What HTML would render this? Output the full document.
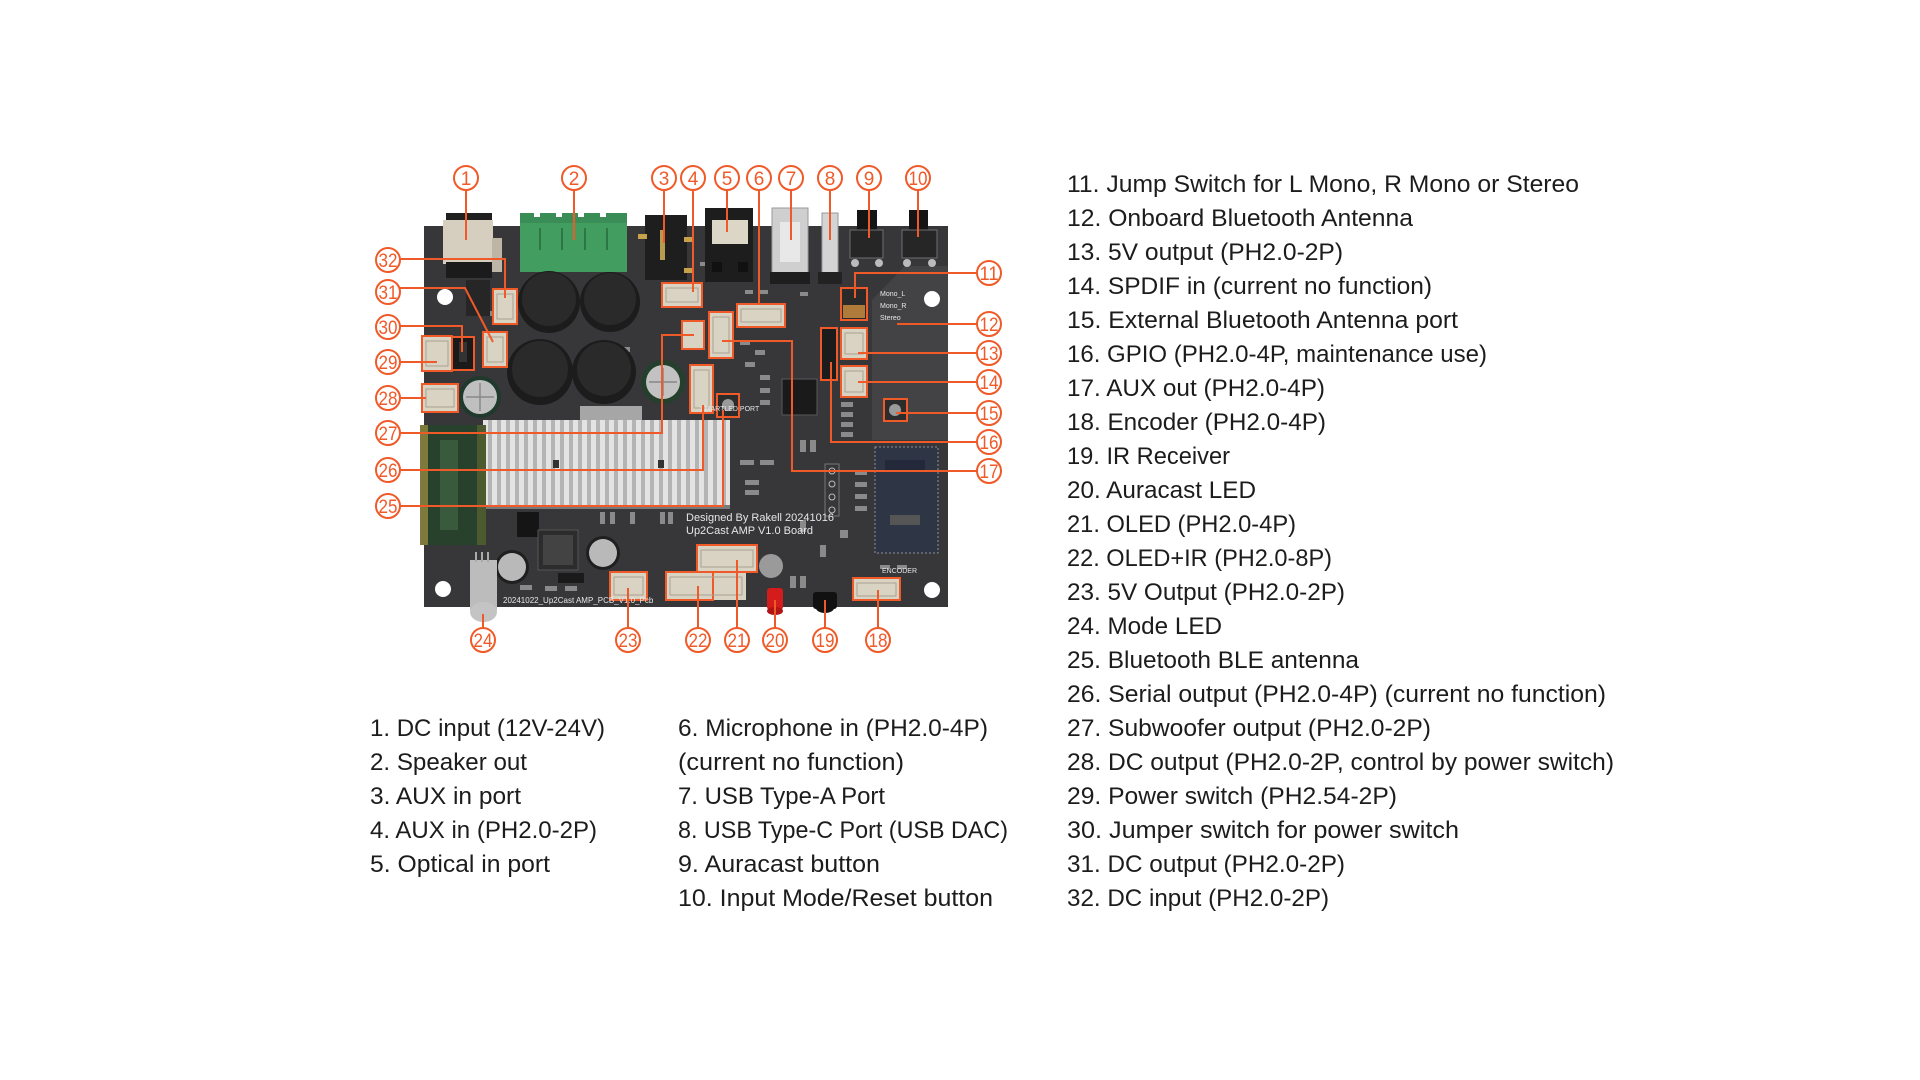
<!DOCTYPE html>
<html><head><meta charset="utf-8"><style>
html,body{margin:0;padding:0;background:#fff;width:1920px;height:1080px;overflow:hidden}
svg{display:block}
.t{font-family:"Liberation Sans",Arial,sans-serif;font-size:24px;fill:#1c1c1c}
.n{font-family:"Liberation Sans",Arial,sans-serif;font-size:19px;fill:#F05A28;text-anchor:middle}
.c{fill:#fff;stroke:#F05A28;stroke-width:2}
.l{fill:none;stroke:#F05A28;stroke-width:2}
.cn{fill:#d9d3c4;stroke:#F05A28;stroke-width:2}
.in{fill:none;stroke:#a9a292;stroke-width:1}
.smd{fill:#8a8a8a}
.wt{font-family:"Liberation Sans",Arial,sans-serif;fill:#e6e6e6}
</style></head><body>
<svg width="1920" height="1080" viewBox="0 0 1920 1080">
<defs>
<pattern id="fins" x="483" y="0" width="9" height="20" patternUnits="userSpaceOnUse">
<rect x="0" y="0" width="9" height="20" fill="#b4b4b4"/>
<rect x="0" y="0" width="5" height="20" fill="#e3e3e3"/>
</pattern>
</defs>
<rect x="0" y="0" width="1920" height="1080" fill="#fff"/>

<!-- PCB -->
<rect x="424" y="226" width="524" height="381" fill="#37373a"/>
<polygon points="905,266 948,266 948,440 872,440 872,300" fill="#434346"/>
<!-- mounting holes -->
<circle cx="445" cy="297" r="8" fill="#fff"/>
<circle cx="932" cy="299" r="8" fill="#fff"/>
<circle cx="443" cy="589" r="8" fill="#fff"/>
<circle cx="932" cy="590" r="8" fill="#fff"/>

<!-- scattered SMD parts -->
<g class="smd">
<rect x="700" y="262" width="8" height="4"/><rect x="712" y="262" width="8" height="4"/><rect x="724" y="262" width="8" height="4"/>
<rect x="745" y="290" width="8" height="4"/><rect x="760" y="290" width="8" height="4"/><rect x="800" y="292" width="8" height="4"/>
<rect x="740" y="340" width="10" height="5"/><rect x="755" y="350" width="10" height="5"/><rect x="745" y="362" width="10" height="5"/>
<rect x="760" y="375" width="10" height="5"/><rect x="760" y="388" width="10" height="5"/><rect x="760" y="400" width="10" height="5"/>
<rect x="841" y="402" width="12" height="5"/><rect x="841" y="412" width="12" height="5"/><rect x="841" y="422" width="12" height="5"/><rect x="841" y="432" width="12" height="5"/>
<rect x="800" y="440" width="6" height="12"/><rect x="810" y="440" width="6" height="12"/>
<rect x="740" y="460" width="14" height="5"/><rect x="760" y="460" width="14" height="5"/>
<rect x="745" y="480" width="14" height="5"/><rect x="745" y="490" width="14" height="5"/>
<rect x="855" y="470" width="12" height="5"/><rect x="855" y="482" width="12" height="5"/><rect x="855" y="494" width="12" height="5"/><rect x="855" y="506" width="12" height="5"/>
<rect x="600" y="512" width="5" height="12"/><rect x="610" y="512" width="5" height="12"/><rect x="630" y="512" width="5" height="12"/>
<rect x="660" y="512" width="5" height="12"/><rect x="668" y="512" width="5" height="12"/>
<rect x="800" y="520" width="6" height="12"/><rect x="840" y="530" width="8" height="8"/><rect x="820" y="545" width="6" height="12"/>
<rect x="520" y="585" width="12" height="5"/><rect x="545" y="586" width="12" height="5"/><rect x="565" y="586" width="12" height="5"/>
<rect x="800" y="576" width="6" height="12"/><rect x="790" y="576" width="6" height="12"/>
<rect x="880" y="565" width="10" height="4"/><rect x="897" y="565" width="10" height="4"/>
<rect x="620" y="347" width="10" height="5"/><rect x="470" y="307" width="10" height="5"/><rect x="482" y="311" width="10" height="5"/>
</g>
<!-- GPIO header 4-hole vertical -->
<rect x="825" y="464" width="14" height="52" fill="none" stroke="#777" stroke-width="1"/>
<circle cx="832" cy="471" r="3" fill="none" stroke="#bbb"/><circle cx="832" cy="484" r="3" fill="none" stroke="#bbb"/>
<circle cx="832" cy="497" r="3" fill="none" stroke="#bbb"/><circle cx="832" cy="510" r="3" fill="none" stroke="#bbb"/>

<!-- DC jack (1) -->
<rect x="446" y="213" width="46" height="12" fill="#202020"/>
<rect x="443" y="220" width="50" height="44" fill="#d6cfbf"/>
<rect x="446" y="262" width="46" height="16" fill="#1b1b1b"/>
<rect x="492" y="238" width="10" height="34" fill="#bdb6a6"/>
<!-- dark part below jack -->
<rect x="466" y="280" width="24" height="36" fill="#262626"/>

<!-- Green terminal (2) -->
<rect x="520" y="213" width="107" height="59" fill="#429d61"/>
<rect x="520" y="213" width="107" height="10" fill="#3a8d56"/>
<rect x="534" y="213" width="6" height="4" fill="#fff"/><rect x="556" y="213" width="6" height="4" fill="#fff"/><rect x="578" y="213" width="6" height="4" fill="#fff"/><rect x="600" y="213" width="6" height="4" fill="#fff"/>
<line x1="540" y1="228" x2="540" y2="250" stroke="#2e7646" stroke-width="2"/>
<line x1="562" y1="228" x2="562" y2="250" stroke="#2e7646" stroke-width="2"/>
<line x1="585" y1="228" x2="585" y2="250" stroke="#2e7646" stroke-width="2"/>
<line x1="607" y1="228" x2="607" y2="250" stroke="#2e7646" stroke-width="2"/>

<!-- AUX jack (3) -->
<rect x="645" y="215" width="42" height="65" fill="#1e1e1e"/>
<rect x="638" y="234" width="9" height="5" fill="#c8a24b"/><rect x="684" y="237" width="9" height="5" fill="#c8a24b"/>
<rect x="684" y="268" width="9" height="5" fill="#c8a24b"/><rect x="660" y="230" width="5" height="30" fill="#b89a50"/>

<!-- Optical (5) -->
<rect x="705" y="208" width="48" height="74" fill="#1d1d1d"/>
<rect x="712" y="220" width="36" height="24" fill="#dcd6c6"/>
<rect x="712" y="262" width="10" height="10" fill="#111"/><rect x="738" y="262" width="10" height="10" fill="#111"/>

<!-- USB-A (7) -->
<rect x="772" y="208" width="36" height="66" fill="#cfcfcf" stroke="#9a9a9a"/>
<rect x="780" y="222" width="20" height="40" fill="#e8e8e8"/>
<rect x="770" y="272" width="40" height="12" fill="#1e1e1e"/>

<!-- USB-C (8) -->
<rect x="822" y="213" width="16" height="66" fill="#d4d4d4" stroke="#999"/>
<rect x="818" y="272" width="24" height="12" fill="#222"/>

<!-- Buttons (9, 10) -->
<rect x="857" y="210" width="20" height="22" fill="#151515"/>
<rect x="850" y="230" width="33" height="28" fill="#262626" stroke="#6d6d6d"/>
<circle cx="855" cy="263" r="4" fill="#bbb"/><circle cx="879" cy="263" r="4" fill="#bbb"/>
<rect x="909" y="210" width="19" height="22" fill="#151515"/>
<rect x="902" y="230" width="35" height="28" fill="#262626" stroke="#6d6d6d"/>
<circle cx="907" cy="263" r="4" fill="#bbb"/><circle cx="932" cy="263" r="4" fill="#bbb"/>

<!-- Inductors -->
<circle cx="610" cy="302" r="30" fill="#1c1c1c"/>
<circle cx="610" cy="299" r="26" fill="#2a2a2a"/>
<circle cx="549" cy="302" r="31" fill="#1c1c1c"/>
<circle cx="549" cy="299" r="27" fill="#2a2a2a"/>
<circle cx="604" cy="372" r="32" fill="#1c1c1c"/>
<circle cx="604" cy="369" r="27" fill="#2a2a2a"/>
<circle cx="540" cy="372" r="33" fill="#1c1c1c"/>
<circle cx="540" cy="369" r="28" fill="#2a2a2a"/>

<!-- electrolytic caps -->
<circle cx="480" cy="397" r="21" fill="#1f3a2c"/>
<circle cx="480" cy="397" r="17" fill="#bfbfbf"/>
<line x1="466" y1="397" x2="494" y2="397" stroke="#888" stroke-width="1.5"/><line x1="480" y1="383" x2="480" y2="411" stroke="#888" stroke-width="1.5"/>
<circle cx="663" cy="382" r="22" fill="#24402c"/>
<circle cx="663" cy="382" r="17" fill="#c2c2c2"/>
<line x1="649" y1="382" x2="677" y2="382" stroke="#888" stroke-width="1.5"/><line x1="663" y1="368" x2="663" y2="396" stroke="#888" stroke-width="1.5"/>

<!-- grey block above heatsink -->
<rect x="580" y="406" width="62" height="16" fill="#a6a6a6"/>
<!-- Heatsink -->
<rect x="483" y="420" width="247" height="89" fill="url(#fins)"/>
<rect x="483" y="505" width="247" height="4" fill="#7a7a7a"/>
<rect x="553" y="460" width="6" height="8" fill="#333"/><rect x="658" y="460" width="6" height="8" fill="#333"/>

<!-- Big green capacitor -->
<rect x="420" y="425" width="66" height="120" rx="5" fill="#27412c"/>
<rect x="420" y="425" width="8" height="120" fill="#7d7a3c"/>
<rect x="477" y="425" width="9" height="120" fill="#4d5a2f"/>
<rect x="440" y="440" width="18" height="90" fill="#3a5a3e"/>

<!-- lower parts -->
<rect x="517" y="512" width="22" height="25" fill="#151515"/>
<rect x="538" y="530" width="40" height="40" fill="#2c2c2c" stroke="#555"/>
<rect x="543" y="535" width="30" height="30" fill="#434343"/>
<circle cx="512" cy="567" r="17" fill="#1f1f1f"/><circle cx="512" cy="567" r="14" fill="#b9b9b9"/>
<circle cx="603" cy="553" r="17" fill="#1f1f1f"/><circle cx="603" cy="553" r="14" fill="#b9b9b9"/>
<rect x="558" y="573" width="26" height="10" fill="#1a1a1a"/>
<rect x="720" y="330" width="0" height="0"/>

<!-- chip U1 -->
<rect x="782" y="379" width="35" height="36" fill="#1a1a1a" stroke="#5a5a5a"/>
<!-- bluetooth module -->
<rect x="875" y="447" width="63" height="106" fill="#2e3544" stroke="#8a8f9a" stroke-dasharray="2,2"/>
<rect x="885" y="460" width="40" height="10" fill="#23293a"/>
<rect x="890" y="515" width="30" height="10" fill="#555"/>

<!-- Mode LED (24) -->
<rect x="470" y="560" width="27" height="50" fill="#bcbcbc"/>
<ellipse cx="483.5" cy="612" rx="13.5" ry="10" fill="#c4c4c4"/>
<line x1="476" y1="552" x2="476" y2="562" stroke="#aaa" stroke-width="2"/><line x1="482" y1="552" x2="482" y2="562" stroke="#aaa" stroke-width="2"/><line x1="488" y1="552" x2="488" y2="562" stroke="#aaa" stroke-width="2"/>

<!-- Auracast LED (20) -->
<circle cx="771" cy="566" r="12" fill="#9a9a9a"/>
<rect x="767" y="588" width="16" height="22" rx="3" fill="#d41c1c"/>
<ellipse cx="775" cy="611" rx="8" ry="4" fill="#b01414"/>
<!-- IR receiver (19) -->
<rect x="813" y="592" width="24" height="17" rx="3" fill="#111"/>
<ellipse cx="825" cy="608" rx="9" ry="5" fill="#111"/>

<!-- Connectors -->
<rect class="cn" x="493" y="289" width="24" height="35"/>
<rect class="cn" x="483" y="332" width="24" height="35"/>
<rect class="cn" x="422" y="336" width="30" height="35"/>
<rect x="452" y="337" width="22" height="33" fill="#1a1a1a" stroke="#F05A28" stroke-width="2"/>
<rect x="459" y="342" width="8" height="20" fill="#333"/>
<rect class="cn" x="422" y="384" width="36" height="28"/>
<rect class="cn" x="662" y="283" width="40" height="24"/>
<rect class="cn" x="682" y="321" width="22" height="28"/>
<rect class="cn" x="709" y="312" width="24" height="46"/>
<rect class="cn" x="737" y="304" width="48" height="23"/>
<rect class="cn" x="690" y="365" width="23" height="48"/>
<rect x="717" y="394" width="22" height="23" fill="#2c2c2c" stroke="#F05A28" stroke-width="2"/>
<circle cx="728" cy="405" r="6" fill="#9a9a9a"/>
<rect x="841" y="288" width="26" height="32" fill="#2a2a2a" stroke="#F05A28" stroke-width="2"/>
<rect x="843" y="305" width="22" height="13" fill="#b07a3a"/>
<rect x="821" y="328" width="16" height="52" fill="#1c1c1c" stroke="#F05A28" stroke-width="2"/>
<rect class="cn" x="841" y="328" width="26" height="31"/>
<rect class="cn" x="841" y="366" width="26" height="31"/>
<rect x="884" y="399" width="23" height="22" fill="#2c2c2c" stroke="#F05A28" stroke-width="2"/>
<circle cx="895" cy="410" r="6" fill="#9a9a9a"/>
<rect class="cn" x="610" y="572" width="37" height="28"/>
<rect x="713" y="573" width="33" height="27" fill="#d9d3c4"/>
<rect class="cn" x="666" y="572" width="47" height="28"/>
<rect class="cn" x="697" y="545" width="60" height="27"/>
<rect class="cn" x="853" y="578" width="47" height="22"/>
<!-- connector inner detail -->
<g class="in">
<rect x="497" y="294" width="16" height="25"/><rect x="487" y="337" width="16" height="25"/>
<rect x="426" y="341" width="22" height="25"/><rect x="426" y="389" width="28" height="18"/>
<rect x="666" y="288" width="32" height="14"/><rect x="741" y="309" width="40" height="13"/>
<rect x="713" y="317" width="16" height="36"/><rect x="694" y="370" width="15" height="38"/>
<rect x="845" y="333" width="18" height="21"/><rect x="845" y="371" width="18" height="21"/>
<rect x="614" y="577" width="29" height="18"/><rect x="670" y="577" width="72" height="18"/>
<rect x="701" y="550" width="52" height="17"/><rect x="857" y="583" width="39" height="13"/>
</g>

<!-- board text -->
<text class="wt" x="686" y="521" font-size="11">Designed By Rakell  20241016</text>
<text class="wt" x="686" y="534" font-size="11">Up2Cast AMP V1.0 Board</text>
<text class="wt" x="503" y="603" font-size="8">20241022_Up2Cast AMP_PCB_V1.0_Pcb</text>
<text class="wt" x="700" y="411" font-size="7">SMARTLED PORT</text>
<text class="wt" x="880" y="296" font-size="7">Mono_L</text>
<text class="wt" x="880" y="308" font-size="7">Mono_R</text>
<text class="wt" x="880" y="320" font-size="7">Stereo</text>
<text class="wt" x="882" y="573" font-size="7">ENCODER</text>

<!-- Leader lines -->
<g class="l">
<path d="M466 190V240"/><path d="M574 190V240"/><path d="M664 190V243"/><path d="M693 190V292"/>
<path d="M727 190V232"/><path d="M759 190V305"/><path d="M791 190V240"/><path d="M830 190V240"/>
<path d="M869 190V238"/><path d="M918 190V237"/>
<path d="M977 273H855V298"/><path d="M977 324H897"/><path d="M977 353H858"/><path d="M977 382H858"/>
<path d="M977 413H896"/><path d="M977 442H831V362"/><path d="M977 471H792V341H722"/>
<path d="M878 628V590"/><path d="M825 628V600"/><path d="M775 628V600"/><path d="M737 628V560"/>
<path d="M698 628V586"/><path d="M628 628V588"/><path d="M483 628V614"/>
<path d="M400 506H723V410"/><path d="M400 470H703V405"/><path d="M400 433H662V335H694"/>
<path d="M400 398H426"/><path d="M400 362H437"/><path d="M400 326H462V352"/>
<path d="M399 288H465L493 342"/><path d="M399 259H505V298"/>
</g>

<!-- Number circles -->
<g>
<circle class="c" cx="466" cy="178" r="12"/><text class="n" x="466" y="185">1</text>
<circle class="c" cx="574" cy="178" r="12"/><text class="n" x="574" y="185">2</text>
<circle class="c" cx="664" cy="178" r="12"/><text class="n" x="664" y="185">3</text>
<circle class="c" cx="693" cy="178" r="12"/><text class="n" x="693" y="185">4</text>
<circle class="c" cx="727" cy="178" r="12"/><text class="n" x="727" y="185">5</text>
<circle class="c" cx="759" cy="178" r="12"/><text class="n" x="759" y="185">6</text>
<circle class="c" cx="791" cy="178" r="12"/><text class="n" x="791" y="185">7</text>
<circle class="c" cx="830" cy="178" r="12"/><text class="n" x="830" y="185">8</text>
<circle class="c" cx="869" cy="178" r="12"/><text class="n" x="869" y="185">9</text>
<circle class="c" cx="918" cy="178" r="12"/><text class="n" x="918" y="185" textLength="19" lengthAdjust="spacingAndGlyphs">10</text>

<circle class="c" cx="989" cy="273" r="12"/><text class="n" x="989" y="280" textLength="19" lengthAdjust="spacingAndGlyphs">11</text>
<circle class="c" cx="989" cy="324" r="12"/><text class="n" x="989" y="331" textLength="19" lengthAdjust="spacingAndGlyphs">12</text>
<circle class="c" cx="989" cy="353" r="12"/><text class="n" x="989" y="360" textLength="19" lengthAdjust="spacingAndGlyphs">13</text>
<circle class="c" cx="989" cy="382" r="12"/><text class="n" x="989" y="389" textLength="19" lengthAdjust="spacingAndGlyphs">14</text>
<circle class="c" cx="989" cy="413" r="12"/><text class="n" x="989" y="420" textLength="19" lengthAdjust="spacingAndGlyphs">15</text>
<circle class="c" cx="989" cy="442" r="12"/><text class="n" x="989" y="449" textLength="19" lengthAdjust="spacingAndGlyphs">16</text>
<circle class="c" cx="989" cy="471" r="12"/><text class="n" x="989" y="478" textLength="19" lengthAdjust="spacingAndGlyphs">17</text>

<circle class="c" cx="878" cy="640" r="12"/><text class="n" x="878" y="647" textLength="19" lengthAdjust="spacingAndGlyphs">18</text>
<circle class="c" cx="825" cy="640" r="12"/><text class="n" x="825" y="647" textLength="19" lengthAdjust="spacingAndGlyphs">19</text>
<circle class="c" cx="775" cy="640" r="12"/><text class="n" x="775" y="647" textLength="19" lengthAdjust="spacingAndGlyphs">20</text>
<circle class="c" cx="737" cy="640" r="12"/><text class="n" x="737" y="647" textLength="19" lengthAdjust="spacingAndGlyphs">21</text>
<circle class="c" cx="698" cy="640" r="12"/><text class="n" x="698" y="647" textLength="19" lengthAdjust="spacingAndGlyphs">22</text>
<circle class="c" cx="628" cy="640" r="12"/><text class="n" x="628" y="647" textLength="19" lengthAdjust="spacingAndGlyphs">23</text>
<circle class="c" cx="483" cy="640" r="12"/><text class="n" x="483" y="647" textLength="19" lengthAdjust="spacingAndGlyphs">24</text>

<circle class="c" cx="388" cy="506" r="12"/><text class="n" x="388" y="513" textLength="19" lengthAdjust="spacingAndGlyphs">25</text>
<circle class="c" cx="388" cy="470" r="12"/><text class="n" x="388" y="477" textLength="19" lengthAdjust="spacingAndGlyphs">26</text>
<circle class="c" cx="388" cy="433" r="12"/><text class="n" x="388" y="440" textLength="19" lengthAdjust="spacingAndGlyphs">27</text>
<circle class="c" cx="388" cy="398" r="12"/><text class="n" x="388" y="405" textLength="19" lengthAdjust="spacingAndGlyphs">28</text>
<circle class="c" cx="388" cy="362" r="12"/><text class="n" x="388" y="369" textLength="19" lengthAdjust="spacingAndGlyphs">29</text>
<circle class="c" cx="388" cy="327" r="12"/><text class="n" x="388" y="334" textLength="19" lengthAdjust="spacingAndGlyphs">30</text>
<circle class="c" cx="388" cy="292" r="12"/><text class="n" x="388" y="299" textLength="19" lengthAdjust="spacingAndGlyphs">31</text>
<circle class="c" cx="388" cy="260" r="12"/><text class="n" x="388" y="267" textLength="19" lengthAdjust="spacingAndGlyphs">32</text>
</g>

<!-- Right column legend -->
<g class="t">
<text x="1067" y="192" textLength="512" lengthAdjust="spacingAndGlyphs">11. Jump Switch for L Mono, R Mono or Stereo</text>
<text x="1067" y="226" textLength="346" lengthAdjust="spacingAndGlyphs">12. Onboard Bluetooth Antenna</text>
<text x="1067" y="260" textLength="276" lengthAdjust="spacingAndGlyphs">13. 5V output (PH2.0-2P)</text>
<text x="1067" y="294" textLength="365" lengthAdjust="spacingAndGlyphs">14. SPDIF in (current no function)</text>
<text x="1067" y="328" textLength="391" lengthAdjust="spacingAndGlyphs">15. External Bluetooth Antenna port</text>
<text x="1067" y="362" textLength="420" lengthAdjust="spacingAndGlyphs">16. GPIO (PH2.0-4P, maintenance use)</text>
<text x="1067" y="396" textLength="258" lengthAdjust="spacingAndGlyphs">17. AUX out (PH2.0-4P)</text>
<text x="1067" y="430" textLength="259" lengthAdjust="spacingAndGlyphs">18. Encoder (PH2.0-4P)</text>
<text x="1067" y="464" textLength="163" lengthAdjust="spacingAndGlyphs">19. IR Receiver</text>
<text x="1067" y="498" textLength="189" lengthAdjust="spacingAndGlyphs">20. Auracast LED</text>
<text x="1067" y="532" textLength="229" lengthAdjust="spacingAndGlyphs">21. OLED (PH2.0-4P)</text>
<text x="1067" y="566" textLength="265" lengthAdjust="spacingAndGlyphs">22. OLED+IR (PH2.0-8P)</text>
<text x="1067" y="600" textLength="278" lengthAdjust="spacingAndGlyphs">23. 5V Output (PH2.0-2P)</text>
<text x="1067" y="634" textLength="155" lengthAdjust="spacingAndGlyphs">24. Mode LED</text>
<text x="1067" y="668" textLength="292" lengthAdjust="spacingAndGlyphs">25. Bluetooth BLE antenna</text>
<text x="1067" y="702" textLength="539" lengthAdjust="spacingAndGlyphs">26. Serial output (PH2.0-4P) (current no function)</text>
<text x="1067" y="736" textLength="364" lengthAdjust="spacingAndGlyphs">27. Subwoofer output (PH2.0-2P)</text>
<text x="1067" y="770" textLength="547" lengthAdjust="spacingAndGlyphs">28. DC output (PH2.0-2P, control by power switch)</text>
<text x="1067" y="804" textLength="330" lengthAdjust="spacingAndGlyphs">29. Power switch (PH2.54-2P)</text>
<text x="1067" y="838" textLength="392" lengthAdjust="spacingAndGlyphs">30. Jumper switch for power switch</text>
<text x="1067" y="872" textLength="278" lengthAdjust="spacingAndGlyphs">31. DC output (PH2.0-2P)</text>
<text x="1067" y="906" textLength="262" lengthAdjust="spacingAndGlyphs">32. DC input (PH2.0-2P)</text>
</g>

<!-- Left columns legend -->
<g class="t">
<text x="370" y="736" textLength="235" lengthAdjust="spacingAndGlyphs">1. DC input (12V-24V)</text>
<text x="370" y="770" textLength="157" lengthAdjust="spacingAndGlyphs">2. Speaker out</text>
<text x="370" y="804" textLength="151" lengthAdjust="spacingAndGlyphs">3. AUX in port</text>
<text x="370" y="838" textLength="227" lengthAdjust="spacingAndGlyphs">4. AUX in (PH2.0-2P)</text>
<text x="370" y="872" textLength="180" lengthAdjust="spacingAndGlyphs">5. Optical in port</text>

<text x="678" y="736" textLength="310" lengthAdjust="spacingAndGlyphs">6. Microphone in (PH2.0-4P)</text>
<text x="678" y="770" textLength="226" lengthAdjust="spacingAndGlyphs">(current no function)</text>
<text x="678" y="804" textLength="207" lengthAdjust="spacingAndGlyphs">7. USB Type-A Port</text>
<text x="678" y="838" textLength="330" lengthAdjust="spacingAndGlyphs">8. USB Type-C Port (USB DAC)</text>
<text x="678" y="872" textLength="202" lengthAdjust="spacingAndGlyphs">9. Auracast button</text>
<text x="678" y="906" textLength="315" lengthAdjust="spacingAndGlyphs">10. Input Mode/Reset button</text>
</g>
</svg>
</body></html>
